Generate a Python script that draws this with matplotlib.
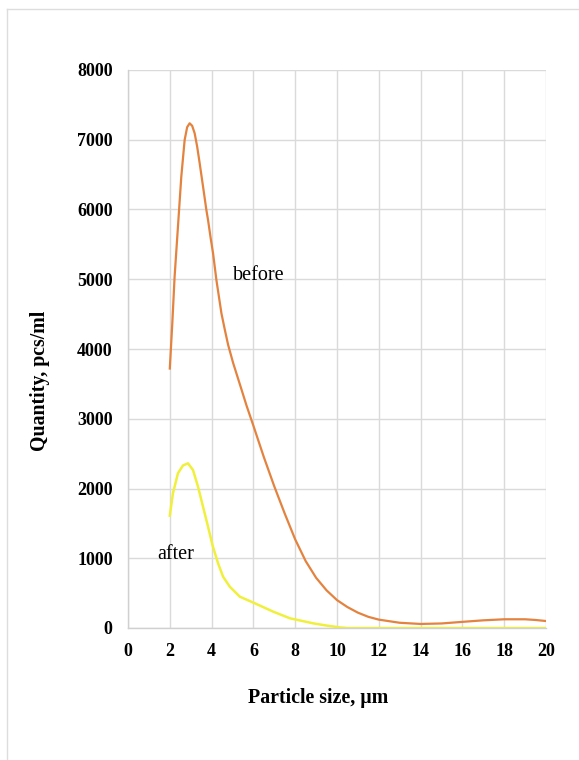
import matplotlib
matplotlib.use("Agg")
import matplotlib.pyplot as plt
from matplotlib.lines import Line2D

# Data
before_x = [2.0, 2.12, 2.23, 2.39, 2.55, 2.71, 2.83, 2.95, 3.07, 3.19, 3.31, 3.43,
            3.59, 3.75, 3.83, 3.95, 4.07, 4.23, 4.47, 4.63, 4.79, 5.03, 5.43, 5.67,
            6.0, 6.5, 7.0, 7.5, 8.0, 8.5, 9.0, 9.5, 10.0, 10.5, 11.0, 11.5, 12.0,
            13.0, 14.0, 15.0, 16.0, 17.0, 18.0, 19.0, 19.5, 20.0]
before_y = [3720, 4369, 5037, 5753, 6470, 6996, 7180, 7236, 7200, 7092, 6900, 6662,
            6330, 5993, 5849, 5600, 5372, 4989, 4512, 4280, 4060, 3800, 3420, 3190,
            2900, 2450, 2030, 1640, 1270, 960, 720, 540, 400, 300, 220, 160, 120, 75,
            58, 65, 88, 110, 125, 125, 115, 100]

after_x = [2.0, 2.15, 2.39, 2.63, 2.87, 3.11, 3.35, 3.59, 3.83, 4.05, 4.31, 4.55,
           4.87, 5.35, 6.07, 6.95, 7.75, 8.86, 9.5, 10.15, 10.5, 12, 14, 16, 18, 20]
after_y = [1610, 1931, 2218, 2330, 2361, 2265, 2026, 1739, 1452, 1180, 927, 735,
           592, 449, 354, 234, 139, 67, 35, 8, 0, 0, 0, 0, 0, 0]

x_ticks = [0, 2, 4, 6, 8, 10, 12, 14, 16, 18, 20]
y_ticks = [0, 1000, 2000, 3000, 4000, 5000, 6000, 7000, 8000]

plt.rcParams['font.family'] = ['Liberation Serif', 'DejaVu Serif']

fig = plt.figure(figsize=(5.79, 7.6), dpi=100)
ax = fig.add_axes([128 / 579, 1 - 628 / 760, (546 - 128) / 579, (628 - 70) / 760])

ax.plot(before_x, before_y, color='#E3833F', lw=1.6, solid_joinstyle='round')
ax.plot(after_x, after_y, color='#F0F03C', lw=1.8, solid_joinstyle='round')

ax.set_xlim(0, 20)
ax.set_ylim(0, 8000)
ax.set_xticks(x_ticks)
ax.set_yticks(y_ticks)
ax.set_xticklabels([str(t) for t in x_ticks], fontweight='bold', fontsize=13)
ax.set_yticklabels([str(t) for t in y_ticks], fontweight='bold', fontsize=13)
ax.tick_params(axis='y', length=0, pad=11)
ax.tick_params(axis='x', length=0, pad=11)
ax.grid(True, color='#DADADA', lw=1)
ax.set_axisbelow(True)
for s in ['top', 'right']:
    ax.spines[s].set_visible(False)
for s in ['left', 'bottom']:
    ax.spines[s].set_color('#D0D0D0')
    ax.spines[s].set_linewidth(1)

ax.text(6.26, 5047, 'before', fontsize=14.5, ha='center', va='center')
ax.text(2.28, 1047, 'after', fontsize=14.5, ha='center', va='center')

fig.text(318 / 579, 1 - 698 / 760, 'Particle size, µm', fontsize=14.3,
         fontweight='bold', ha='center', va='center')
fig.text(40 / 579, 1 - 381 / 760, 'Quantity, pcs/ml', fontsize=14.3,
         fontweight='bold', ha='center', va='center', rotation=90)

# Light frame (top and left edges visible in the reference)
fig.add_artist(Line2D([7 / 579, 1], [1 - 9 / 760, 1 - 9 / 760],
                      transform=fig.transFigure, color='#DDDDDD', lw=1))
fig.add_artist(Line2D([7 / 579, 7 / 579], [0, 1 - 9 / 760],
                      transform=fig.transFigure, color='#DDDDDD', lw=1))

fig.savefig('out.png', dpi=100)
